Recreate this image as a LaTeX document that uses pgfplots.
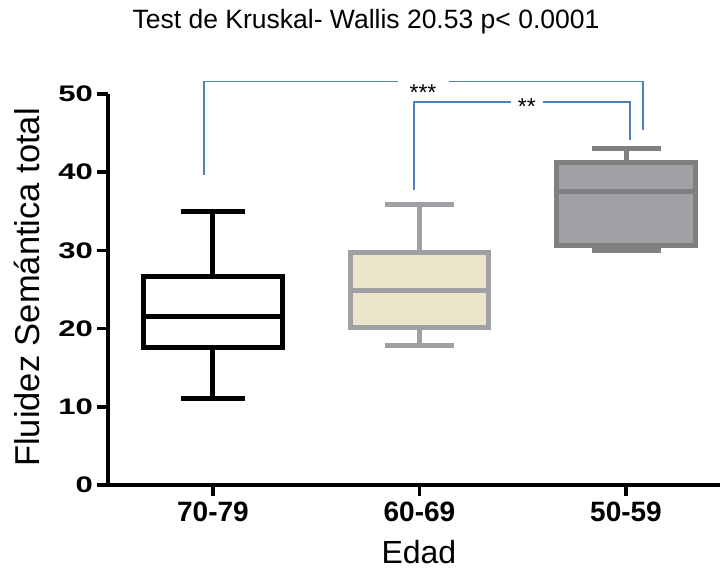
\documentclass[border=0pt]{standalone}
\usepackage{pgfplots}
\pgfplotsset{compat=1.18}
\usepackage{fontspec}
\setmainfont{Liberation Sans}
\usepackage{graphicx}
\definecolor{brk}{RGB}{79,129,189}
\definecolor{gA}{RGB}{160,160,164}
\definecolor{fA}{RGB}{234,229,203}
\definecolor{gB}{RGB}{128,128,128}
\definecolor{fB}{RGB}{161,161,165}
\begin{document}
\begin{tikzpicture}
\useasboundingbox (-108bp,-88bp) rectangle (613bp,485bp);
\begin{axis}[
  at={(0,0)}, anchor=south west,
  scale only axis, width=612bp, height=391bp,
  xmin=-0.508, xmax=2.455, ymin=0, ymax=50,
  axis x line=bottom, axis y line=left,
  axis line style={line width=3.5bp, -},
  xtick={0,1,2}, xticklabels={70-79,60-69,50-59},
  ytick={0,10,20,30,40,50},
  tick align=outside, major tick length=11bp,
  tick style={line width=3.5bp, black},
  minor tick num=0,
  xticklabel style={font=\fontsize{28bp}{28bp}\selectfont\bfseries, inner sep=2bp, yshift=-4bp},
  yticklabel={\scalebox{1.38}[1]{\pgfmathprintnumber[assume math mode=true]{\tick}}},
  yticklabel style={font=\fontsize{22.5bp}{22.5bp}\selectfont\bfseries, inner sep=2bp, xshift=-2bp},
  xlabel={Edad},
  xlabel style={font=\fontsize{32bp}{32bp}\selectfont, at={(axis description cs:0.508,-0.200)}, anchor=base},
  ylabel={Fluidez Semántica total},
  ylabel style={font=\fontsize{34.5bp}{34.5bp}\selectfont, at={(axis description cs:-0.112,0.505)}, anchor=base},
  clip=false,
  every axis plot/.append style={line width=5bp, line join=miter, mark=none},
]
% ---- 70-79: whiskers 11.0 / 35.0, box 17.6-26.7, median 21.6
\addplot[black] coordinates {(0,11.0) (0,35.0)};
\addplot[black] coordinates {(-0.155,35.0) (0.155,35.0)};
\addplot[black] coordinates {(-0.155,11.0) (0.155,11.0)};
\addplot[draw=black, fill=white] coordinates {(0,17.6) (0.335,17.6) (0.335,26.7) (-0.335,26.7) (-0.335,17.6) (0,17.6)};
\addplot[black] coordinates {(-0.335,21.6) (0.335,21.6)};
% ---- 60-69: whiskers 17.9 / 35.9, box 20.2-29.7, median 24.9
\addplot[gA] coordinates {(1,17.9) (1,35.9)};
\addplot[gA] coordinates {(0.835,35.9) (1.165,35.9)};
\addplot[gA] coordinates {(0.835,17.9) (1.165,17.9)};
\addplot[draw=gA, fill=fA] coordinates {(1,20.2) (1.335,20.2) (1.335,29.7) (0.665,29.7) (0.665,20.2) (1,20.2)};
\addplot[gA] coordinates {(0.665,24.9) (1.335,24.9)};
% ---- 50-59: whiskers 30.0 / 43.0, box 30.6-41.3, median 37.5
\addplot[gB] coordinates {(2,30.0) (2,43.0)};
\addplot[gB] coordinates {(1.833,43.0) (2.167,43.0)};
\addplot[gB] coordinates {(1.833,30.0) (2.167,30.0)};
\addplot[draw=gB, fill=fB] coordinates {(2,30.6) (2.335,30.6) (2.335,41.3) (1.665,41.3) (1.665,30.6) (2,30.6)};
\addplot[gB] coordinates {(1.665,37.5) (2.335,37.5)};
% significance brackets
\addplot[brk, line width=1.5bp, forget plot] coordinates {(-0.044,39.6) (-0.044,51.6) (0.896,51.6)};
\addplot[brk, line width=1.5bp, forget plot] coordinates {(1.143,51.6) (2.082,51.6) (2.082,45.4)};
\addplot[brk, line width=1.5bp, forget plot] coordinates {(0.973,37.7) (0.973,49.0) (1.443,49.0)};
\addplot[brk, line width=1.5bp, forget plot] coordinates {(1.598,49.0) (2.019,49.0) (2.019,44.1)};
\node[font=\fontsize{23bp}{23bp}\selectfont, anchor=base, inner sep=0pt] at (axis cs:1.017,49.15) {***};
\node[font=\fontsize{23bp}{23bp}\selectfont, anchor=base, inner sep=0pt] at (axis cs:1.52,47.4) {**};
\node[font=\fontsize{26.5bp}{26.5bp}\selectfont, anchor=base, inner sep=0pt] at (axis description cs:0.4216,1.168) {Test de Kruskal- Wallis 20.53 p< 0.0001};
\end{axis}
\end{tikzpicture}
\end{document}
